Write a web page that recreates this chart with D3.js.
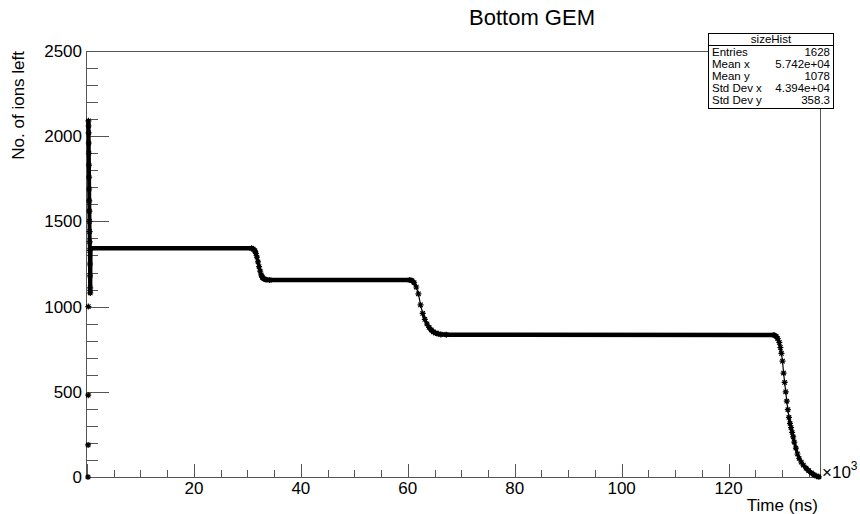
<!DOCTYPE html>
<html>
<head>
<meta charset="utf-8">
<script src="https://cdn.jsdelivr.net/npm/d3@7"></script>
<style>
  body { margin: 0; background: #fff; }
  svg text { font-family: "Liberation Sans", Arial, sans-serif; fill: #000; }
</style>
</head>
<body>
<svg id="chart" width="860" height="514"></svg>
<script>
// time in units of 10^3 ns

// first few scattered entries at t ~ 0
var earlyTime = [0.00, 0.02, 0.04, 0.06];
var earlyIons = [0, 188, 480, 1000];

// main curve
var timeK = [
  0.08, 0.10, 0.12, 0.14, 0.16, 0.18, 0.20, 0.22, 0.24, 0.26, 0.28, 0.30, 0.32, 0.34, 0.36, 0.38, 0.40, 0.42, 0.50,
  30.6, 30.9, 31.2, 31.4, 31.6, 31.8, 32.0, 32.2, 32.4, 32.6, 32.9, 33.3, 34.0,
  60.2, 60.6, 61.0, 61.4, 61.8, 62.2, 62.6, 63.0, 63.4, 63.8, 64.2, 64.6, 65.0, 65.5, 66.0, 67.0,
  128.3, 128.7, 129.0, 129.3, 129.5, 129.7, 129.9, 130.1, 130.3, 130.5, 130.7, 130.9, 131.1, 131.3, 131.5,
  131.7, 131.9, 132.1, 132.4, 132.7, 133.0, 133.4, 133.8, 134.3, 134.8, 135.3, 135.8, 136.3, 136.7
];
var ionsLeft = [
  2090, 2060, 2020, 1960, 1900, 1830, 1760, 1690, 1620, 1560, 1500, 1440, 1380, 1330, 1250, 1180, 1110, 1080, 1342,
  1342, 1338, 1328, 1312, 1290, 1262, 1235, 1208, 1186, 1172, 1163, 1158, 1156,
  1156, 1152, 1140, 1115, 1075, 1010, 960, 925, 898, 878, 863, 852, 845, 840, 837, 835,
  833, 826, 812, 790, 760, 725, 680, 610, 555, 500, 445, 395, 350, 315, 290,
  262, 235, 205, 170, 135, 110, 88, 70, 52, 37, 24, 13, 5, 1
];

var xTicks = [20, 40, 60, 80, 100, 120];
var yTicks = [0, 500, 1000, 1500, 2000, 2500];

var statLabels = ["Entries", "Mean x", "Mean y", "Std Dev x", "Std Dev y"];
var statValues = ["1628", "5.742e+04", "1078", "4.394e+04", "358.3"];

var svg = d3.select("#chart");
var frameL = 87, frameR = 820, frameT = 51, frameB = 477;

var x = d3.scaleLinear().domain([0, 137.1]).range([frameL, frameR]);
var y = d3.scaleLinear().domain([0, 2500]).range([frameB, frameT]);

var axisColor = "#555";

// frame
svg.append("rect")
  .attr("x", frameL - 0.5).attr("y", frameT + 0.5)
  .attr("width", frameR - frameL + 1).attr("height", frameB - frameT)
  .attr("fill", "none").attr("stroke", axisColor).attr("stroke-width", 1);

// y ticks (drawn into the frame)
var yMinor = d3.range(0, 2501, 100);
svg.append("g").selectAll("line")
  .data(yMinor)
  .enter().append("line")
  .attr("x1", frameL - 0.5)
  .attr("x2", function(d) { return frameL + (d % 500 === 0 ? 22 : 11); })
  .attr("y1", function(d) { return Math.round(y(d)) + 0.5; })
  .attr("y2", function(d) { return Math.round(y(d)) + 0.5; })
  .attr("stroke", axisColor);

svg.append("g").selectAll("text")
  .data(yTicks)
  .enter().append("text")
  .attr("x", frameL - 5)
  .attr("y", function(d) { return y(d) + 6; })
  .attr("text-anchor", "end")
  .style("font-size", "17px")
  .text(function(d) { return d; });

// x ticks
var xMinor = d3.range(0, 136, 5);
svg.append("g").selectAll("line")
  .data(xMinor)
  .enter().append("line")
  .attr("x1", function(d) { return Math.round(x(d)) + 0.5; })
  .attr("x2", function(d) { return Math.round(x(d)) + 0.5; })
  .attr("y1", frameB + 0.5)
  .attr("y2", function(d) { return frameB - (d % 20 === 0 ? 13 : 7); })
  .attr("stroke", axisColor);

svg.append("g").selectAll("text")
  .data(xTicks)
  .enter().append("text")
  .attr("x", function(d) { return x(d); })
  .attr("y", 494)
  .attr("text-anchor", "middle")
  .style("font-size", "17px")
  .text(function(d) { return d; });

// x10^3 exponent
var expo = svg.append("text")
  .attr("x", 822).attr("y", 478)
  .style("font-size", "17px");
expo.append("tspan").text("\u00d710");
expo.append("tspan").attr("dy", -8).style("font-size", "12px").text("3");

// axis titles
svg.append("text")
  .attr("x", 818).attr("y", 511)
  .attr("text-anchor", "end")
  .style("font-size", "17px")
  .text("Time (ns)");

svg.append("text")
  .attr("transform", "translate(24," + frameT + ") rotate(-90)")
  .attr("text-anchor", "end")
  .style("font-size", "17px")
  .text("No. of ions left");

svg.append("text")
  .attr("x", 532).attr("y", 25)
  .attr("text-anchor", "middle")
  .style("font-size", "22px")
  .text("Bottom GEM");

// data
var pts = timeK.map(function(t, i) { return [t, ionsLeft[i]]; });
var early = earlyTime.map(function(t, i) { return [t, earlyIons[i]]; });

// dense runs of markers merge into a thick band where the curve is flat,
// while on the steep drops the single stars stay visible
var segs = d3.pairs(pts);
svg.append("g").selectAll("line")
  .data(segs)
  .enter().append("line")
  .attr("x1", function(d) { return x(d[0][0]) + 1; })
  .attr("y1", function(d) { return y(d[0][1]); })
  .attr("x2", function(d) { return x(d[1][0]) + 1; })
  .attr("y2", function(d) { return y(d[1][1]); })
  .attr("stroke", "#000")
  .attr("stroke-linecap", "round")
  .attr("stroke-width", function(d) {
    var dy = Math.abs(y(d[0][1]) - y(d[1][1]));
    var dx = Math.abs(x(d[0][0]) - x(d[1][0]));
    if (dx < 1) return 4;
    return dy < 3 ? 4.5 : (dy < 6 ? 3 : 1.2);
  });

var star = "M-3,0H3M0,-3V3M-2.2,-2.2L2.2,2.2M-2.2,2.2L2.2,-2.2";
svg.append("g").selectAll("path")
  .data(pts.concat(early))
  .enter().append("path")
  .attr("d", star)
  .attr("transform", function(d) { return "translate(" + (x(d[0]) + 1) + "," + y(d[1]) + ")"; })
  .attr("fill", "none")
  .attr("stroke", "#000")
  .attr("stroke-width", 1.2);

// stats box
var box = svg.append("g");
box.append("rect")
  .attr("x", 708.5).attr("y", 33.5)
  .attr("width", 125).attr("height", 75)
  .attr("fill", "#fff").attr("stroke", "#000").attr("stroke-width", 1);
box.append("line")
  .attr("x1", 708.5).attr("x2", 833.5)
  .attr("y1", 45.5).attr("y2", 45.5)
  .attr("stroke", "#000");
box.append("text")
  .attr("x", 771).attr("y", 43)
  .attr("text-anchor", "middle")
  .style("font-size", "11.5px")
  .text("sizeHist");
box.selectAll(".lab")
  .data(statLabels)
  .enter().append("text")
  .attr("class", "lab")
  .attr("x", 712)
  .attr("y", function(d, i) { return 56 + i * 12; })
  .style("font-size", "11.5px")
  .text(function(d) { return d; });
box.selectAll(".val")
  .data(statValues)
  .enter().append("text")
  .attr("class", "val")
  .attr("x", 830)
  .attr("y", function(d, i) { return 56 + i * 12; })
  .attr("text-anchor", "end")
  .style("font-size", "11.5px")
  .text(function(d) { return d; });
</script>
</body>
</html>
